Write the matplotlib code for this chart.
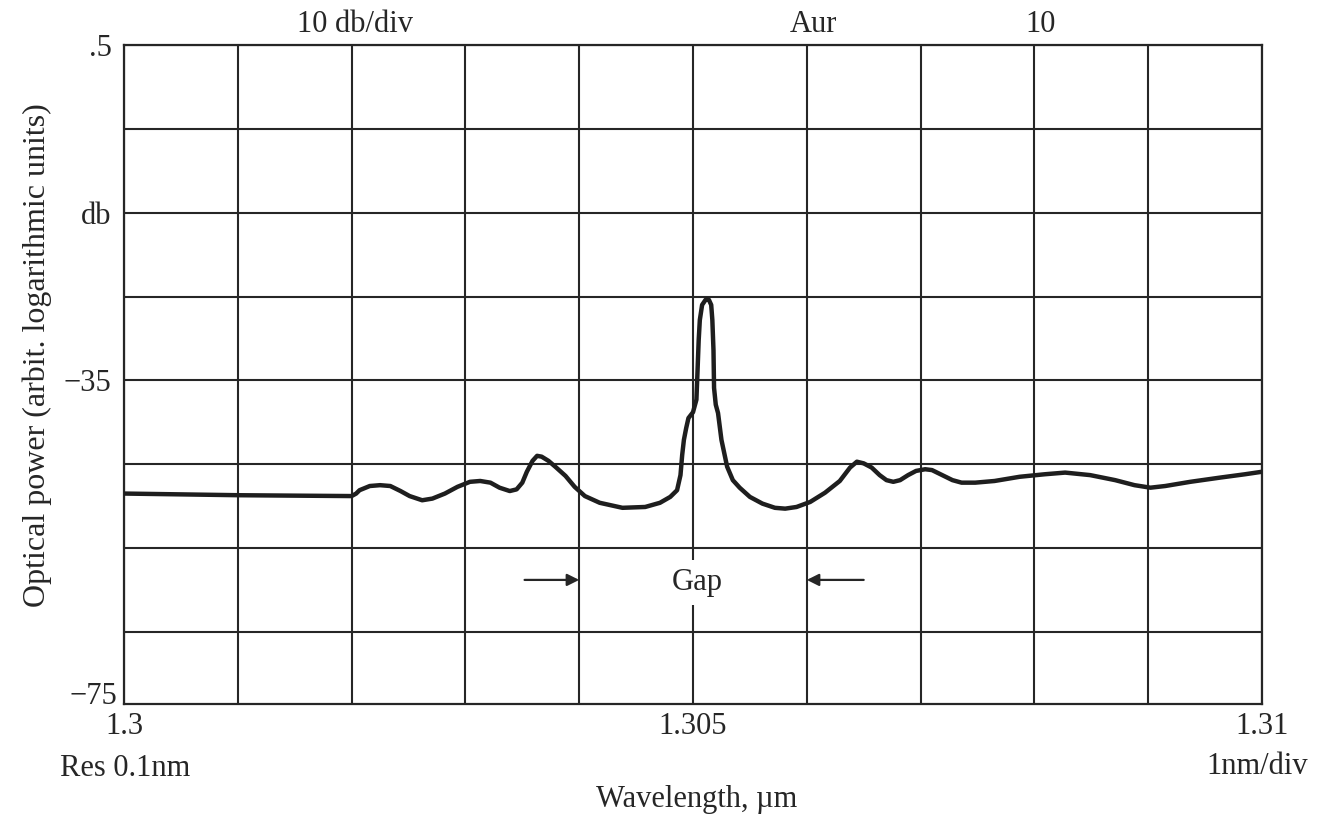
import matplotlib
matplotlib.use("Agg")
import matplotlib.pyplot as plt
import matplotlib.transforms as mtransforms

# ---- data ----
wavelength_um = [
    1.30000, 1.30102, 1.30200, 1.30204, 1.30207, 1.30216, 1.30225, 1.30234,
    1.30243, 1.30251, 1.30262, 1.30271, 1.30282, 1.30293, 1.30304, 1.30313,
    1.30322, 1.30330, 1.30339, 1.30345, 1.30350, 1.30354, 1.30359, 1.30363,
    1.30367, 1.30373, 1.30379, 1.30388, 1.30396, 1.30405, 1.30418, 1.30438,
    1.30458, 1.30471, 1.30480, 1.30486, 1.30489, 1.304905, 1.30492, 1.30494,
    1.30496, 1.30500, 1.30503, 1.30504, 1.30505, 1.30506, 1.30508, 1.30511,
    1.30512, 1.30514, 1.30516, 1.30517, 1.30518, 1.305185, 1.30520, 1.30522,
    1.30525, 1.30530, 1.30535, 1.30541, 1.30550, 1.30561, 1.30572, 1.30581,
    1.30591, 1.30603, 1.30616, 1.30629, 1.30638, 1.30644, 1.30650, 1.30657,
    1.30664, 1.30670, 1.30676, 1.30682, 1.30689, 1.30696, 1.30704, 1.30710,
    1.30719, 1.30728, 1.30736, 1.30748, 1.30765, 1.30787, 1.30809, 1.30827,
    1.30849, 1.30871, 1.30888, 1.30902, 1.30915, 1.30937, 1.30963, 1.30985,
    1.31000,
]
power_db = [
    -48.5, -48.7, -48.8, -48.5, -48.1, -47.6, -47.5, -47.6,
    -48.2, -48.8, -49.3, -49.1, -48.5, -47.7, -47.1, -47.0,
    -47.2, -47.8, -48.2, -48.0, -47.2, -45.9, -44.6, -44.0,
    -44.1, -44.6, -45.3, -46.4, -47.7, -48.8, -49.6, -50.2,
    -50.1, -49.6, -48.9, -48.1, -46.3, -43.9, -42.1, -40.7,
    -39.5, -38.8, -37.3, -33.8, -30.2, -27.8, -26.0, -25.4,
    -25.3, -25.4, -26.0, -27.8, -31.4, -35.9, -37.9, -38.9,
    -42.1, -45.3, -46.9, -47.8, -48.9, -49.7, -50.2, -50.3,
    -50.1, -49.5, -48.4, -47.0, -45.4, -44.7, -44.9, -45.4,
    -46.3, -46.9, -47.1, -46.9, -46.3, -45.8, -45.6, -45.7,
    -46.3, -46.9, -47.2, -47.2, -47.0, -46.5, -46.2, -46.0,
    -46.3, -46.9, -47.5, -47.8, -47.6, -47.1, -46.6, -46.2,
    -45.9,
]

x_grid = [1.300, 1.301, 1.302, 1.303, 1.304, 1.305, 1.306, 1.307, 1.308, 1.309, 1.310]
x_labels = ["1.3", "", "", "", "", "1.305", "", "", "", "", "1.31"]
y_grid = [5, -5, -15, -25, -35, -45, -55, -65]
y_labels = [".5", "", "db", "", "\u221235", "", "", ""]
y_bottom_label = "\u221275"

top_labels = [("10 db/div", 1.30203), ("Aur", 1.30606), ("10", 1.30805)]
gap_text = "Gap"
gap_left = (1.30352, 1.30400)
gap_right = (1.30650, 1.30600)
gap_y = -58.8

# ---- style ----
plt.rcParams["font.family"] = ["Liberation Serif", "DejaVu Serif"]
INK = "#262626"
LINE = "#1e1e1e"
FS = 22

fig = plt.figure(figsize=(13.18, 8.19), dpi=100)
fig.patch.set_facecolor("white")
ax = fig.add_axes([124 / 1318, 1 - 704 / 819, (1262 - 124) / 1318, (704 - 45) / 819])

ax.set_xlim(1.300, 1.310)
ax.set_ylim(-73.6, 5)

ax.set_xticks(x_grid)
ax.set_xticklabels(x_labels)
ax.set_yticks(y_grid)
ax.set_yticklabels(y_labels)
ax.tick_params(length=0, labelsize=FS, colors=INK, pad=9)
ax.tick_params(axis="x", pad=6)
ax.grid(True, color=INK, linewidth=1.5)
ax.set_axisbelow(True)
for s in ax.spines.values():
    s.set_color(INK)
    s.set_linewidth(1.6)

ax.plot(wavelength_um, power_db, color=LINE, linewidth=3.2,
        solid_joinstyle="round", solid_capstyle="round", zorder=3)

# bottom y label
trans_y = mtransforms.blended_transform_factory(ax.transAxes, ax.transData)
ax.text(-0.006, -72.7, y_bottom_label, transform=trans_y, ha="right", va="center",
        fontsize=FS, color=INK)

# top labels
trans_x = mtransforms.blended_transform_factory(ax.transData, fig.transFigure)
for txt, xv in top_labels:
    ax.text(xv, 1 - 24 / 819, txt, transform=trans_x, ha="center", va="center",
            fontsize=FS, color=INK)

# bottom extra labels
fig.text(60 / 1318, 1 - 768 / 819, "Res 0.1nm", ha="left", va="center", fontsize=FS, color=INK)
fig.text(1308 / 1318, 1 - 767 / 819, "1nm/div", ha="right", va="center", fontsize=FS, color=INK)
fig.text(697 / 1318, 1 - 800 / 819, "Wavelength, \u00b5m", ha="center", va="center",
         fontsize=FS, color=INK)
fig.text(37 / 1318, 1 - 355 / 819, "Optical power (arbit. logarithmic units)", rotation=90,
         ha="center", va="center", fontsize=FS + 1, color=INK)

# Gap annotation
ax.text(1.30504, -59.1, gap_text, ha="center", va="center", fontsize=FS, color=INK,
        bbox=dict(facecolor="white", edgecolor="none", pad=6), zorder=4)
arrow = dict(arrowstyle="-|>", color=INK, lw=1.6, mutation_scale=18, shrinkA=0, shrinkB=0)
ax.annotate("", xy=(gap_left[1], gap_y), xytext=(gap_left[0], gap_y), arrowprops=arrow)
ax.annotate("", xy=(gap_right[1], gap_y), xytext=(gap_right[0], gap_y), arrowprops=arrow)

fig.savefig("out.png", dpi=100, facecolor="white")
